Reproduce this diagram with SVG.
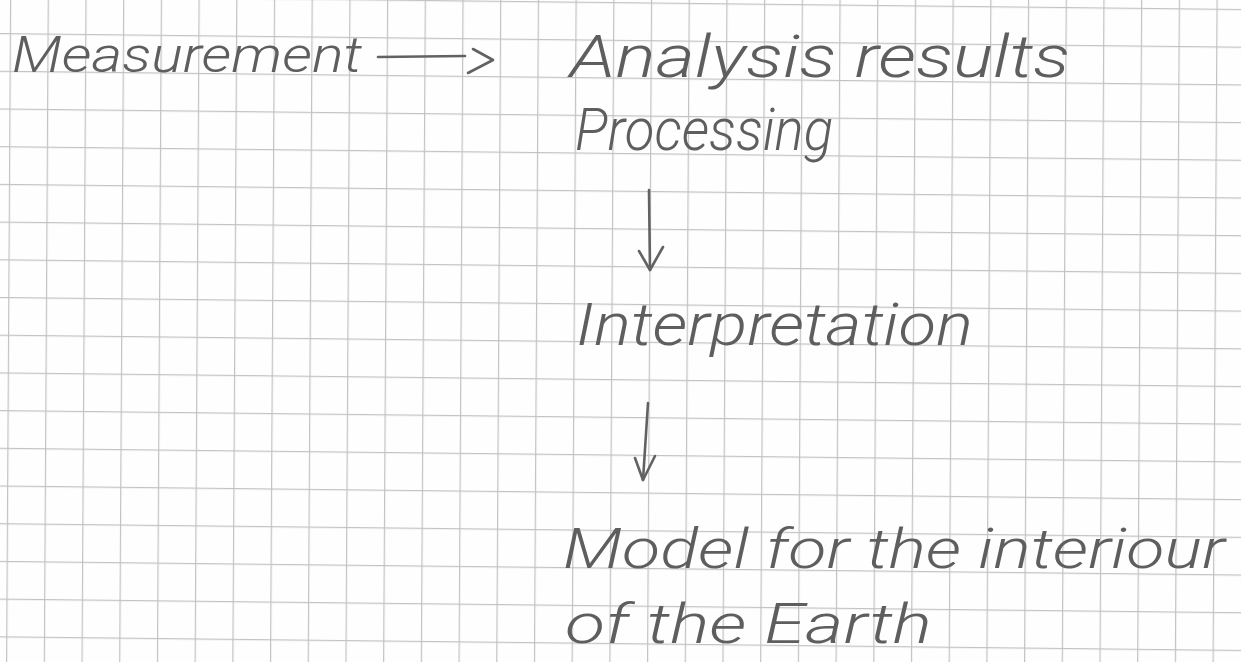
<svg xmlns="http://www.w3.org/2000/svg" width="1241" height="662" viewBox="0 0 1241 662">
<style>
.t{font-family:Roboto,"Liberation Sans","DejaVu Sans",sans-serif;font-style:italic;font-weight:300;fill:#5e5e5e;}
.c{fill:none;stroke:#626262;stroke-width:2.6;stroke-linecap:round;stroke-linejoin:round;}
</style>
<defs>
<pattern id="grid" patternUnits="userSpaceOnUse" x="10" y="33" width="37.7" height="37.7" patternTransform="matrix(1 0.011 -0.006 1 0 0)">
<rect x="0" y="0" width="37.7" height="37.7" fill="#fefefe"/>
<rect x="0" y="0" width="1.2" height="37.7" fill="#c2c2c2"/>
<rect x="0" y="0" width="37.7" height="1.2" fill="#c2c2c2"/>
</pattern>
</defs>
<rect x="0" y="0" width="1241" height="662" fill="#fefefe"/>
<rect x="-50" y="-50" width="1350" height="770" fill="url(#grid)"/>

<g id="measurement"><text class="t" x="12" y="72" font-size="50" textLength="350" lengthAdjust="spacingAndGlyphs">Measurement</text></g>
<g id="analysis"><text class="t" x="570" y="77" font-size="60" textLength="500" lengthAdjust="spacingAndGlyphs">Analysis results</text>
<text class="t" x="575" y="150" font-size="60" textLength="258" lengthAdjust="spacingAndGlyphs">Processing</text></g>
<g id="interpretation"><text class="t" x="576" y="345" font-size="60" textLength="397" lengthAdjust="spacingAndGlyphs">Interpretation</text></g>
<g id="model"><text class="t" x="563" y="568" font-size="56" textLength="662" lengthAdjust="spacingAndGlyphs">Model for the interiour</text>
<text class="t" x="565" y="643" font-size="56" textLength="367" lengthAdjust="spacingAndGlyphs">of the Earth</text></g>

<g id="connectors">
<path class="c" d="M378 57 L465 56"/>
<path class="c" d="M473 49 L493 60 L468 73"/>
<path class="c" d="M649 190 L650 270"/>
<path class="c" d="M639 251 L650 270 L663 247"/>
<path class="c" d="M648 403 L643 480"/>
<path class="c" d="M635 458 L643 480 L655 456"/>
</g>
</svg>
